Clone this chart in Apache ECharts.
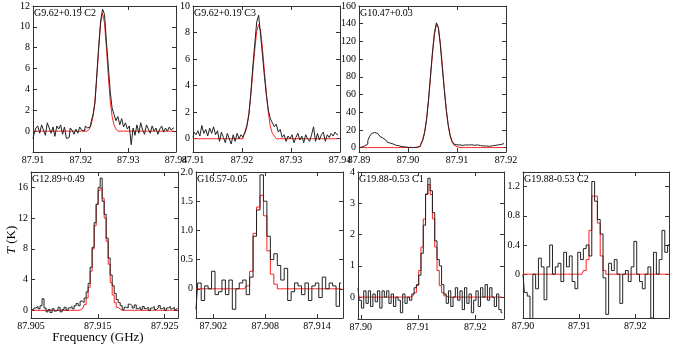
<!DOCTYPE html>
<html>
<head>
<meta charset="utf-8">
<script src="https://cdn.jsdelivr.net/npm/echarts@6/dist/echarts.min.js"></script>
<style>
html, body { margin: 0; padding: 0; background: #fff; }
#chart { width: 674px; height: 349px; }
</style>
</head>
<body>
<div id="chart"></div>
<script>
// source names, first channel frequency (GHz) and channel width (GHz)
var names = ["G9.62+0.19 C2", "G9.62+0.19 C3", "G10.47+0.03", "G12.89+0.49", "G16.57-0.05", "G19.88-0.53 C1", "G19.88-0.53 C2"];
var chanStart = [87.9100, 87.9100, 87.8900, 87.9050, 87.9000, 87.8995, 87.9000];
var chanWidth = [0.0004, 0.0004, 0.0004, 0.0003, 0.0004, 0.0004, 0.0005];

// observed spectra T (K), black
var obs1 = [-0.7, -0.3, 0.3, 0.5, -0.2, 0.6, 0.1, -0.4, 0.8, 0.3,
  -0.2, 0.4, -0.5, 0.5, 0.2, 0.6, -0.3, 0.4, -0.7, -0.6,
  0.3, 0.1, -0.3, 0.2, -0.2, 0.4, 0.1, 0.0, 0.5, 0.3,
  0.4, 0.9, 1.6, 2.7, 5.5, 8.2, 10.6, 11.7, 11.2, 8.6,
  6.2, 3.8, 2.2, 1.6, 1.0, 1.4, 0.6, 1.2, 0.4, 0.8,
  0.2, 0.5, -1.3, 0.3, -0.4, 0.6, -0.2, 0.8, 0.1, -0.3,
  0.6, 0.2, -0.2, 0.5, 0.0, 0.3, -0.3, 0.2, 0.5, -0.1,
  0.3, 0.0, 0.4, 0.1, 0.3];
var obs2 = [0.1, 0.5, 0.3, 0.6, 0.2, 1.0, 0.4, 0.7, 0.2, 0.8,
  0.4, 0.9, 0.3, 0.6, -0.2, 0.5, 0.1, -0.3, 0.4, 0.0,
  -0.4, 0.3, -0.2, 0.4, 0.0, 0.3, 0.1, 0.5, 1.0, 1.8,
  3.4, 5.4, 7.1, 8.8, 9.3, 7.8, 6.2, 4.6, 3.2, 2.1,
  1.5, 1.2, 0.9, 1.1, 0.5, 0.7, 0.1, 0.3, -0.2, 0.2,
  0.0, 0.3, -0.3, 0.1, 0.4, -0.1, 0.2, -0.3, 0.3, 0.0,
  -0.2, 0.3, 0.9, -0.2, 0.4, -0.1, 0.3, 0.5, -0.2, 0.3,
  0.1, 0.4, 0.2, 0.5, 0.3];
var obs3 = [0, 0.5, 1, 2, 4, 8, 13, 16, 17, 16,
  15, 13, 11, 9, 7.5, 6, 5, 4, 3, 2.5,
  2, 1.5, 1, 0.8, 0.5, 0.3, 0.2, 0.1, 0.1, 0.3,
  0.5, 1.0, 3.5, 8, 17, 32, 55, 82, 108, 130,
  141, 136, 116, 90, 66, 43, 26, 14, 7, 4,
  3, 3, 3.5, 2.5, 3, 3.5, 2.8, 3.2, 3.8, 2.6,
  3.0, 2.4, 2.2, 1.8, 1.5, 1.8, 1.4, 1.8, 2.0, 2.5,
  2.2, 3.0, 3.5, 4.0, 4.5];
var obs4 = [0.2, 0.0, 0.3, 0.5, 0.2, 0.6, 1.5, 0.3, -0.2, 0.1,
  -0.3, 0.2, -0.1, 0.0, 0.4, -0.2, 0.1, 0.4, 0.0, 0.3,
  0.5, 0.2, 0.6, 0.9, 0.6, 1.2, 1.0, 1.6, 2.4, 3.5,
  5.6, 8.2, 11.4, 13.8, 16.0, 17.2, 14.2, 12.5, 9.4, 6.8,
  4.6, 3.2, 2.2, 1.4, 1.0, 0.6, 0.1, 0.4, 0.3, 0.8,
  0.6, 0.3, 0.7, 0.2, 0.4, 0.1, 0.5, 0.2, 0.4, 0.0,
  0.3, 0.5, 0.1, 0.3, 0.6, 0.2, 0.4, 0.0, 0.3, 0.5,
  0.2, 0.4, 0.1, 0.3];
var obs5 = [-0.35, 0.1, -0.2, 0.05, 0.0, 0.3, -0.1, -0.05, 0.15, -0.1,
  0.15, -0.35, 0.0, 0.1, 0.15, -0.1, 0.2, 0.9, 1.35, 1.95,
  1.5, 0.9, 0.5, 0.6, 0.4, 0.15, 0.35, -0.2, -0.05, 0.1,
  0.05, -0.1, 0.1, -0.2, 0.05, 0.1, -0.15, 0.2, 0.0, 0.1,
  0.05, -0.3, 0.1];
var obs6 = [0.3, -0.1, -0.35, 0.2, -0.2, 0.2, -0.3, 0.1, -0.15, 0.2,
  -0.35, 0.2, 0.0, 0.2, -0.2, 0.1, -0.3, 0.0, -0.1, -0.5,
  0.1, -0.2, 0.0, -0.1, 0.1, 0.3, 0.4, 0.7, 1.4, 2.3,
  3.3, 3.8, 3.4, 2.7, 1.8, 1.2, 1.0, 0.4, 0.1, -0.2,
  0.2, -0.3, 0.0, 0.3, -0.1, 0.2, -0.4, 0.3, -0.2, 0.1,
  -0.5, -0.1, 0.2, -0.3, 0.3, 0.0, 0.4, -0.1, 0.3, 0.0,
  -0.3, 0.1, -0.4, -0.5];
var obs7 = [0.0, -0.25, -0.3, -0.65, 0.0, -0.2, 0.22, 0.1, -0.35, 0.1,
  0.4, 0.0, 0.1, 0.15, -0.1, 0.3, 0.1, 0.25, -0.1, -0.2,
  0.3, 0.2, 0.35, 0.4, 0.25, 1.27, 1.0, 0.75, 0.55, -0.05,
  -0.55, 0.15, 0.05, 0.2, 0.0, -0.4, 0.0, 0.05, -0.1, 0.1,
  0.45, 0.0, -0.1, -0.2, 0.0, 0.1, -0.6, 0.3, 0.0, 0.2,
  0.6, 0.3, 0.4];

// fitted profiles T (K), red
var fit1 = [0, 0, 0, 0, 0, 0, 0, 0, 0, 0, 0, 0, 0, 0, 0, 0, 0, 0, 0, 0, 0, 0, 0, 0, 0, 0, 0, 0, 0, 0,
  0.2, 0.6, 1.4, 2.9, 5.3, 8.0, 10.4, 11.3, 10.4, 8.0, 5.3, 2.9, 1.4, 0.6, 0.2,
  0, 0, 0, 0, 0, 0, 0, 0, 0, 0, 0, 0, 0, 0, 0, 0, 0, 0, 0, 0, 0, 0, 0, 0, 0, 0, 0, 0, 0, 0];
var fit2 = [0, 0, 0, 0, 0, 0, 0, 0, 0, 0, 0, 0, 0, 0, 0, 0, 0, 0, 0, 0, 0, 0, 0, 0, 0, 0,
  0.2, 0.4, 0.9, 1.9, 3.3, 5.0, 6.7, 8.1, 8.6, 8.1, 6.7, 5.0, 3.3, 1.9, 0.9, 0.4, 0.2,
  0, 0, 0, 0, 0, 0, 0, 0, 0, 0, 0, 0, 0, 0, 0, 0, 0, 0, 0, 0, 0, 0, 0, 0, 0, 0, 0, 0, 0, 0, 0, 0];
var fit3 = [0, 0, 0, 0, 0, 0, 0, 0, 0, 0, 0, 0, 0, 0, 0, 0, 0, 0, 0, 0, 0, 0, 0, 0, 0, 0, 0, 0, 0, 0,
  0.6, 1.6, 4, 9, 18, 33, 54, 80, 107, 128, 139, 135, 118, 93, 67, 43, 25, 13, 6, 2.6, 1,
  0, 0, 0, 0, 0, 0, 0, 0, 0, 0, 0, 0, 0, 0, 0, 0, 0, 0, 0, 0, 0, 0, 0, 0];
var fit4 = [0, 0, 0, 0, 0, 0, 0, 0, 0, 0, 0, 0, 0, 0, 0, 0, 0, 0, 0, 0, 0, 0, 0, 0, 0,
  0.1, 0.3, 0.75, 1.6, 3.0, 5.1, 8.0, 11.0, 13.8, 15.6, 15.9, 14.6, 12.0, 9.0, 6.0, 3.6, 2.0, 1.0, 0.4, 0.15,
  0, 0, 0, 0, 0, 0, 0, 0, 0, 0, 0, 0, 0, 0, 0, 0, 0, 0, 0, 0, 0, 0, 0, 0, 0, 0, 0, 0, 0];
var fit5 = [0, 0, 0, 0, 0, 0, 0, 0, 0, 0, 0, 0, 0, 0, 0,
  0.05, 0.3, 0.95, 1.4, 1.6, 1.25, 0.65, 0.25, 0.08,
  0, 0, 0, 0, 0, 0, 0, 0, 0, 0, 0, 0, 0, 0, 0, 0, 0, 0, 0];
var fit6 = [0, 0, 0, 0, 0, 0, 0, 0, 0, 0, 0, 0, 0, 0, 0, 0, 0, 0, 0, 0, 0, 0, 0, 0,
  0.04, 0.14, 0.37, 0.85, 1.6, 2.5, 3.28, 3.6, 3.28, 2.5, 1.6, 0.85, 0.37, 0.14, 0.04,
  0, 0, 0, 0, 0, 0, 0, 0, 0, 0, 0, 0, 0, 0, 0, 0, 0, 0, 0, 0, 0, 0, 0, 0, 0];
var fit7 = [0, 0, 0, 0, 0, 0, 0, 0, 0, 0, 0, 0, 0, 0, 0, 0, 0, 0, 0, 0, 0, 0,
  0.05, 0.2, 0.6, 1.07, 1.07, 0.7, 0.25, 0.05,
  0, 0, 0, 0, 0, 0, 0, 0, 0, 0, 0, 0, 0, 0, 0, 0, 0, 0, 0, 0, 0, 0, 0];

// tick labels
var xTicks = [
  [87.91, 87.92, 87.93, 87.94], [87.91, 87.92, 87.93, 87.94], [87.89, 87.90, 87.91, 87.92],
  [87.905, 87.915, 87.925], [87.902, 87.908, 87.914], [87.90, 87.91, 87.92], [87.90, 87.91, 87.92]
];
var xDigits = [2, 2, 2, 3, 3, 2, 2];
var yTicks = [
  [0, 2, 4, 6, 8, 10, 12], [0, 2, 4, 6, 8, 10], [0, 20, 40, 60, 80, 100, 120, 140, 160],
  [0, 4, 8, 12, 16], [0, 0.5, 1.0, 1.5, 2.0], [0, 1, 2, 3, 4], [0, 0.4, 0.8, 1.2]
];
var yDigits = [0, 0, 0, 0, 1, 0, 1];

var obsAll = [obs1, obs2, obs3, obs4, obs5, obs6, obs7];
var fitAll = [fit1, fit2, fit3, fit4, fit5, fit6, fit7];

// panel boxes (px) and axis ranges
var boxes = [
  { left: 33, top: 6, width: 143, height: 146, x: [87.91, 87.94], y: [-2, 12] },
  { left: 193, top: 6, width: 147, height: 146, x: [87.91, 87.94], y: [-1, 10] },
  { left: 359, top: 6, width: 147, height: 146, x: [87.89, 87.92], y: [-5, 160] },
  { left: 31, top: 172, width: 147, height: 146, x: [87.905, 87.927], y: [-1, 18] },
  { left: 196, top: 172, width: 147, height: 146, x: [87.900, 87.917], y: [-0.5, 2] },
  { left: 358, top: 172, width: 146, height: 147, x: [87.8995, 87.925], y: [-0.7, 4] },
  { left: 523, top: 172, width: 146, height: 146, x: [87.900, 87.926], y: [-0.6, 1.4] }
];

var font = "Liberation Serif";
var lineCol = "#333";

function channels(start, step, vals) {
  return vals.map(function (v, i) {
    return [+(start + step * i).toFixed(5), v];
  });
}

var grids = [], xAxes = [], yAxes = [], series = [], titles = [];
boxes.forEach(function (b, k) {
  grids.push({ left: b.left, top: b.top, width: b.width, height: b.height });
  titles.push({
    text: names[k], left: b.left + 1, top: b.top + 2, padding: 0,
    textStyle: { fontSize: 10, fontWeight: "normal", fontFamily: font, color: "#000" }
  });
  var xd = xDigits[k], yd = yDigits[k];
  var common = {
    gridIndex: k, type: "value",
    axisLine: { show: true, onZero: false, lineStyle: { color: lineCol, width: 1 } },
    splitLine: { show: false }
  };
  xAxes.push(Object.assign({}, common, {
    position: "bottom", min: b.x[0], max: b.x[1],
    axisTick: { inside: true, length: 4, customValues: xTicks[k], lineStyle: { color: lineCol } },
    axisLabel: {
      customValues: xTicks[k], margin: 3, fontSize: 10, fontFamily: font, color: "#000",
      formatter: function (v) { return v.toFixed(xd); }
    }
  }));
  xAxes.push(Object.assign({}, common, {
    position: "top", min: b.x[0], max: b.x[1],
    axisTick: { inside: true, length: 4, customValues: xTicks[k], lineStyle: { color: lineCol } },
    axisLabel: { show: false }
  }));
  yAxes.push(Object.assign({}, common, {
    position: "left", min: b.y[0], max: b.y[1],
    axisTick: { inside: true, length: 4, customValues: yTicks[k], lineStyle: { color: lineCol } },
    axisLabel: {
      customValues: yTicks[k], margin: 3, fontSize: 10, fontFamily: font, color: "#000",
      formatter: function (v) { return v === 0 ? "0" : v.toFixed(yd); }
    }
  }));
  yAxes.push(Object.assign({}, common, {
    position: "right", min: b.y[0], max: b.y[1],
    axisTick: { inside: true, length: 4, customValues: yTicks[k], lineStyle: { color: lineCol } },
    axisLabel: { show: false }
  }));
  series.push({
    type: "line", xAxisIndex: 2 * k, yAxisIndex: 2 * k, step: "middle",
    showSymbol: false, silent: true,
    data: channels(chanStart[k], chanWidth[k], fitAll[k]),
    lineStyle: { color: "#ff2020", width: 1 }
  });
  series.push({
    type: "line", xAxisIndex: 2 * k, yAxisIndex: 2 * k, step: "middle",
    showSymbol: false, silent: true,
    data: channels(chanStart[k], chanWidth[k], obsAll[k]),
    lineStyle: { color: "#222", width: 1 }
  });
});

var chart = echarts.init(document.getElementById("chart"));
chart.setOption({
  animation: false,
  backgroundColor: "#fff",
  title: titles,
  grid: grids,
  xAxis: xAxes,
  yAxis: yAxes,
  series: series,
  graphic: [
    {
      type: "text", x: 98, y: 338,
      style: { text: "Frequency (GHz)", font: "13px " + font, fill: "#000", align: "center", verticalAlign: "middle" }
    },
    {
      type: "text", x: 12, y: 240, rotation: Math.PI / 2,
      style: {
        text: "{i|T} (K)", font: "13px " + font, fill: "#000", align: "center", verticalAlign: "middle",
        rich: { i: { fontStyle: "italic", fontSize: 13, fontFamily: font } }
      }
    }
  ]
});
</script>
</body>
</html>
